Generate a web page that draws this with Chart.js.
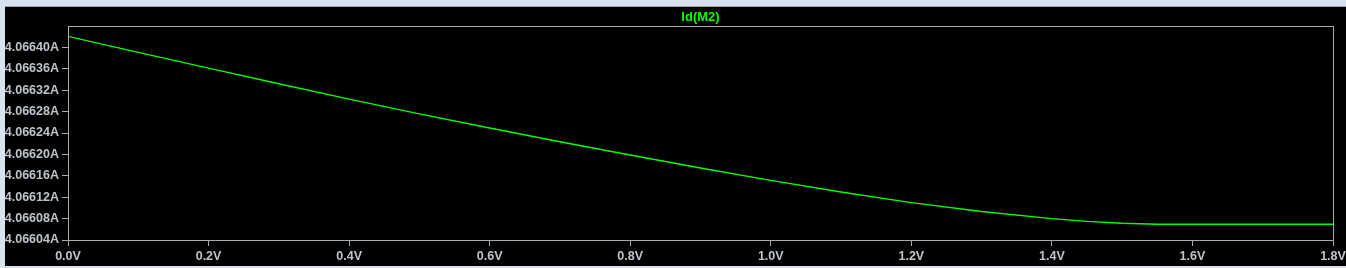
<!DOCTYPE html>
<html>
<head>
<meta charset="utf-8">
<script src="https://cdn.jsdelivr.net/npm/chart.js@4/dist/chart.umd.min.js"></script>
<style>
  html, body { margin: 0; padding: 0; }
  body { width: 1346px; height: 268px; background: #d8e2ee; position: relative; overflow: hidden; }
  #wrap { position: absolute; left: 5px; top: 6px; width: 1341px; height: 259px; background: #000; border-top: 1px solid #9aa0a8; }
  canvas { display: block; }
</style>
</head>
<body>
<div id="wrap"><canvas id="plot" width="1341" height="259"></canvas></div>
<script>
// sweep voltage (V) and drain current of M2 (A)
const voltage = [0, 0.1, 0.2, 0.3, 0.4, 0.5, 0.6, 0.7, 0.8, 0.9, 1.0, 1.1, 1.2, 1.3, 1.4, 1.45, 1.5, 1.55, 1.6, 1.7, 1.8];
const idM2 = [4.0664206, 4.0663907, 4.0663612, 4.0663320, 4.0663034, 4.0662758, 4.0662493, 4.0662237,
              4.0661988, 4.0661745, 4.0661514, 4.0661297, 4.0661099, 4.0660932, 4.0660800, 4.0660749,
              4.0660714, 4.0660695, 4.0660693, 4.0660693, 4.0660693];

const xTicks = [0, 0.2, 0.4, 0.6, 0.8, 1.0, 1.2, 1.4, 1.6, 1.8];
const yTicks = [4.06604, 4.06608, 4.06612, 4.06616, 4.06620, 4.06624, 4.06628, 4.06632, 4.06636, 4.06640];
const traceName = "Id(M2)";

const axisGray = "#a8acb0";
const labelColor = "#bcc3ca";
const tickFont = { family: "'Liberation Sans', Arial, sans-serif", size: 12.5, weight: "bold" };

// frame round the plot + the trace name on top
const frame = {
  id: "frame",
  afterDraw(chart) {
    const c = chart.ctx, a = chart.chartArea;
    c.save();
    c.strokeStyle = axisGray;
    c.lineWidth = 1;
    c.strokeRect(Math.round(a.left) + 0.5, Math.round(a.top) + 0.5,
                 Math.round(a.right - a.left), Math.round(a.bottom - a.top));
    c.fillStyle = "#00ff00";
    c.font = "bold 13px 'Liberation Sans', Arial, sans-serif";
    c.textAlign = "center";
    c.textBaseline = "middle";
    c.fillText(traceName, (a.left + a.right) / 2, 10);
    c.restore();
  }
};

new Chart(document.getElementById("plot"), {
  type: "line",
  data: {
    datasets: [{
      label: traceName,
      data: voltage.map((v, i) => ({ x: v, y: idM2[i] })),
      borderColor: "#00ff00",
      borderWidth: 1.4,
      pointRadius: 0,
      tension: 0,
      fill: false
    }]
  },
  options: {
    responsive: false,
    animation: false,
    layout: { padding: { top: 19, right: 13, left: 0, bottom: 0 } },
    plugins: { legend: { display: false }, title: { display: false }, tooltip: { enabled: false } },
    scales: {
      x: {
        type: "linear",
        min: 0, max: 1.8,
        afterBuildTicks: s => { s.ticks = xTicks.map(v => ({ value: v })); },
        afterFit: s => { s.height = 26; s.paddingLeft = 0; s.paddingRight = 0; },
        grid: { display: true, drawOnChartArea: false, drawTicks: true, tickLength: 6, color: axisGray, tickColor: axisGray },
        border: { display: false },
        ticks: { color: labelColor, font: tickFont, padding: 3, maxRotation: 0, autoSkip: false,
                 callback: v => v.toFixed(1) + "V" }
      },
      y: {
        type: "linear",
        min: 4.06604, max: 4.06644,
        afterBuildTicks: s => { s.ticks = yTicks.map(v => ({ value: v })); },
        afterFit: s => { s.width = 63; s.paddingTop = 0; s.paddingBottom = 0; },
        grid: { display: true, drawOnChartArea: false, drawTicks: true, tickLength: 6, color: axisGray, tickColor: axisGray },
        border: { display: false },
        ticks: { color: labelColor, font: tickFont, padding: 3, autoSkip: false,
                 callback: v => v.toFixed(5) + "A" }
      }
    }
  },
  plugins: [frame]
});
</script>
</body>
</html>
